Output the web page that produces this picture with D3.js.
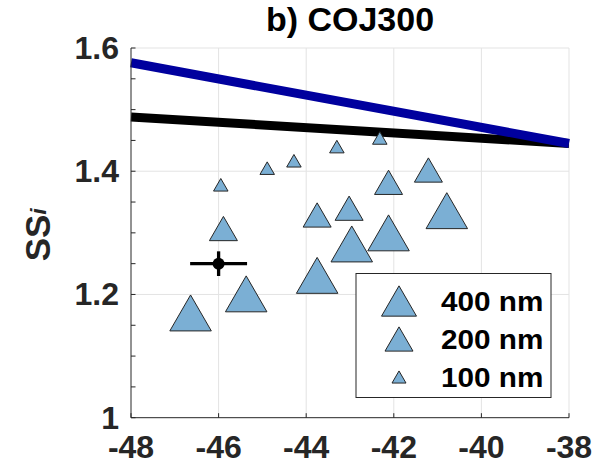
<!DOCTYPE html>
<html>
<head>
<meta charset="utf-8">
<script src="https://cdn.jsdelivr.net/npm/d3@7"></script>
<style>
  body { margin: 0; background: #fff; }
  text { font-family: "Liberation Sans", Arial, sans-serif; font-weight: bold; fill: #000; }
</style>
</head>
<body>
<div id="chart"></div>
<script>
// data
const xTicks = [-48, -46, -44, -42, -40, -38];
const yTicks = [1, 1.2, 1.4, 1.6];
const yMinor = d3.range(1, 1.601, 0.05);

const sizeLabels = ["400 nm", "200 nm", "100 nm"];

const x400 = [-46.64, -45.37, -43.75, -42.96, -42.12, -40.79];
const y400 = [1.170, 1.201, 1.231, 1.282, 1.300, 1.336];
const x200 = [-45.89, -43.75, -43.02, -42.12, -41.21];
const y200 = [1.307, 1.329, 1.340, 1.382, 1.402];
const x100 = [-45.95, -44.89, -44.28, -43.30, -42.32];
const y100 = [1.378, 1.405, 1.417, 1.440, 1.454];

const blueX = [-48, -38];
const blueY = [1.576, 1.445];
const blackX = [-48, -38];
const blackY = [1.488, 1.445];

const refX = -46, refY = 1.25, refXErr = 0.65, refYErr = 0.02;

const W = 595, H = 471;
const margin = { left: 131, right: 26, top: 48, bottom: 53.3 };

const svg = d3.select("#chart").append("svg")
  .attr("width", W).attr("height", H);

const x = d3.scaleLinear().domain([-48, -38]).range([margin.left, W - margin.right]);
const y = d3.scaleLinear().domain([1, 1.6]).range([H - margin.bottom, margin.top]);

const x0 = x.range()[0], x1 = x.range()[1];
const y0 = y.range()[0], y1 = y.range()[1];

// grid
const grid = svg.append("g").attr("stroke", "#e3e3e3").attr("stroke-width", 1);
grid.selectAll(".gx").data(xTicks.slice(1)).enter().append("line")
  .attr("x1", d => x(d)).attr("x2", d => x(d)).attr("y1", y0).attr("y2", y1);
grid.selectAll(".gy").data(yTicks.slice(1)).enter().append("line")
  .attr("y1", d => y(d)).attr("y2", d => y(d)).attr("x1", x0).attr("x2", x1);

// model lines
const line = d3.line().x(d => x(d[0])).y(d => y(d[1]));
svg.append("path")
  .datum(d3.zip(blackX, blackY))
  .attr("d", line).attr("fill", "none").attr("stroke", "#000").attr("stroke-width", 9);
svg.append("path")
  .datum(d3.zip(blueX, blueY))
  .attr("d", line).attr("fill", "none").attr("stroke", "#00009e").attr("stroke-width", 9);

// triangles
const tri = side => {
  const h = side * Math.sqrt(3) / 2;
  return `M0,${-h / 2}L${side / 2},${h / 2}L${-side / 2},${h / 2}Z`;
};
const groups = [
  { xs: x100, ys: y100, side: 14.5 },
  { xs: x200, ys: y200, side: 28 },
  { xs: x400, ys: y400, side: 41.5 }
];
groups.forEach(g => {
  svg.append("g").selectAll("path")
    .data(d3.zip(g.xs, g.ys)).enter().append("path")
    .attr("d", tri(g.side))
    .attr("transform", d => `translate(${x(d[0])},${y(d[1])})`)
    .attr("fill", "#7bafd4").attr("stroke", "#262626").attr("stroke-width", 1);
});

// reference point with error bars
const eb = svg.append("g").attr("stroke", "#000").attr("stroke-width", 3.3);
eb.append("line").attr("x1", x(refX - refXErr)).attr("x2", x(refX + refXErr))
  .attr("y1", y(refY)).attr("y2", y(refY));
eb.append("line").attr("x1", x(refX)).attr("x2", x(refX))
  .attr("y1", y(refY - refYErr)).attr("y2", y(refY + refYErr));
svg.append("circle").attr("cx", x(refX)).attr("cy", y(refY)).attr("r", 6).attr("fill", "#000");

// axes
const axisG = svg.append("g").attr("stroke", "#262626").attr("stroke-width", 1);
axisG.append("line").attr("x1", x0).attr("x2", x0).attr("y1", y0).attr("y2", y1);
axisG.append("line").attr("x1", x0).attr("x2", x1).attr("y1", y0).attr("y2", y0);
axisG.selectAll(".ty").data(yMinor).enter().append("line")
  .attr("x1", x0).attr("x2", x0 + 4.5).attr("y1", d => y(d)).attr("y2", d => y(d));
axisG.selectAll(".tx").data(xTicks).enter().append("line")
  .attr("x1", d => x(d)).attr("x2", d => x(d)).attr("y1", y0).attr("y2", y0 - 4.5);

svg.append("g").selectAll("text").data(yTicks).enter().append("text")
  .attr("x", x0 - 12).attr("y", d => y(d))
  .attr("text-anchor", "end").attr("dominant-baseline", "central")
  .style("font-size", "32px").style("fill", "#262626")
  .text(d => d3.format("")(d));

svg.append("g").selectAll("text").data(xTicks).enter().append("text")
  .attr("x", d => x(d)).attr("y", y0 + 40)
  .attr("text-anchor", "middle")
  .style("font-size", "32px").style("fill", "#262626")
  .text(d => d);

// y label
const yl = svg.append("text")
  .attr("transform", `translate(50,${(y0 + y1) / 2 + 2}) rotate(-90)`)
  .attr("text-anchor", "middle")
  .style("font-size", "35px").style("fill", "#262626");
yl.append("tspan").text("SS");
yl.append("tspan").attr("dy", -4).style("font-style", "italic").style("font-size", "22px").text("i");

// title
svg.append("text").attr("x", (x0 + x1) / 2).attr("y", 31)
  .attr("text-anchor", "middle").style("font-size", "34px")
  .text("b) COJ300");

// legend
const lg = svg.append("g");
lg.append("rect").attr("x", 356).attr("y", 273.5).attr("width", 195).attr("height", 124)
  .attr("fill", "#fff").attr("stroke", "#262626").attr("stroke-width", 1);
const legSides = [35, 28, 14];
const rowY = d3.scalePoint().domain(sizeLabels).range([301, 377]);
sizeLabels.forEach((lab, i) => {
  lg.append("path").attr("d", tri(legSides[i]))
    .attr("transform", `translate(399,${rowY(lab)})`)
    .attr("fill", "#7bafd4").attr("stroke", "#262626").attr("stroke-width", 1);
  lg.append("text").attr("transform", `translate(441,${rowY(lab)}) scale(1.1,1)`)
    .attr("dominant-baseline", "central").style("font-size", "27px")
    .text(lab);
});
</script>
</body>
</html>
